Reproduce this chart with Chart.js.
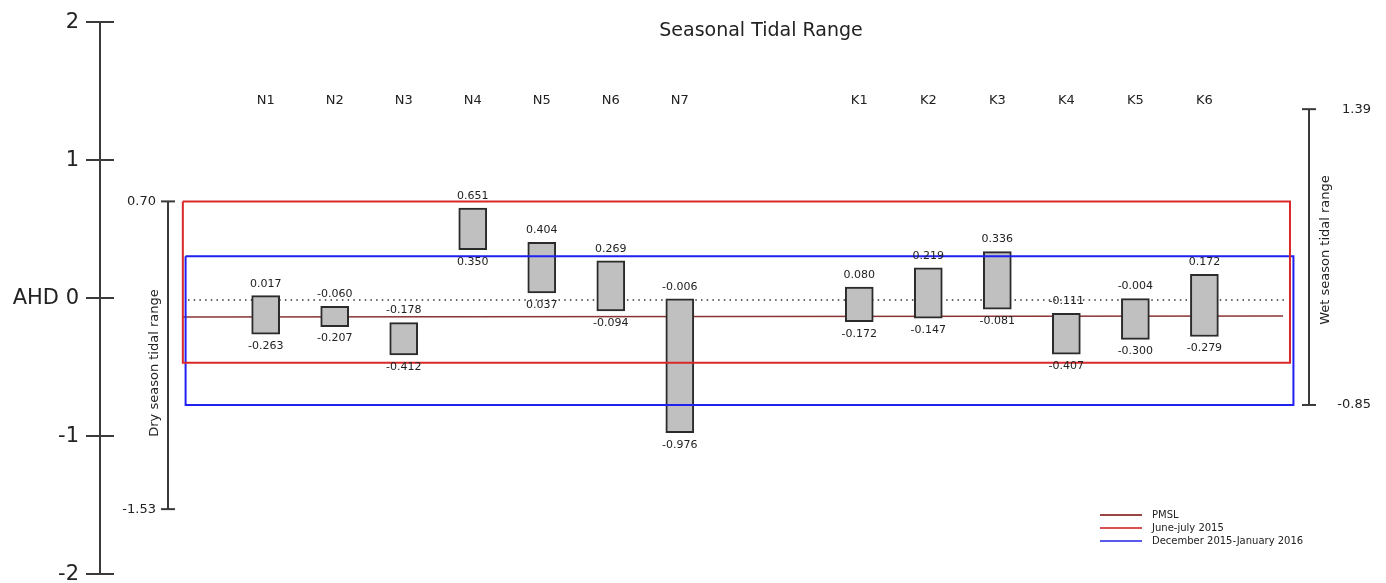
<!DOCTYPE html>
<html>
<head>
<meta charset="utf-8">
<title>Seasonal Tidal Range</title>
<script src="https://cdn.jsdelivr.net/npm/chart.js@4.4.1/dist/chart.umd.min.js"></script>
<style>
  html, body { margin: 0; padding: 0; background: #fff; }
  #wrap { width: 1386px; height: 583px; }
</style>
</head>
<body>
<div id="wrap"><canvas id="tideChart" width="1386" height="583"></canvas></div>
<script>
// sites and their position along the x axis (gap between the N and K groups)
var sites = ["N1", "N2", "N3", "N4", "N5", "N6", "N7", "K1", "K2", "K3", "K4", "K5", "K6"];
var sitePos = [1, 2, 3, 4, 5, 6, 7, 9.6, 10.6, 11.6, 12.6, 13.6, 14.6];
var rangeHigh = [0.017, -0.060, -0.178, 0.651, 0.404, 0.269, -0.006, 0.080, 0.219, 0.336, -0.111, -0.004, 0.172];
var rangeLow = [-0.263, -0.207, -0.412, 0.350, 0.037, -0.094, -0.976, -0.172, -0.147, -0.081, -0.407, -0.300, -0.279];

// AHD axis
var ahdTicks = [2, 1, 0, -1, -2];
var ahdTickLabels = ["2", "1", "AHD 0", "-1", "-2"];
// dry / wet season tidal range axes
var dryTicks = [0.70, -1.53];
var dryTickLabels = ["0.70", "-1.53"];
var wetTicks = [1.39, -0.85];
var wetTickLabels = ["1.39", "-0.85"];

// season boxes: [left, right, top, bottom]
var juneBox = [-0.20, 15.84, 0.70, -0.469];
var decBox = [-0.16, 15.89, 0.302, -0.775];
// PMSL line and AHD 0 reference
var pmslX = [-0.197, 15.74];
var pmslY = [-0.137, -0.131];
var zeroX = [-0.125, 15.77];
var zeroY = [-0.015, -0.015];

var legendNames = ["PMSL", "June-july 2015", "December 2015-January 2016"];

var FONT = "'DejaVu Sans', Verdana, sans-serif";

function boxPoints(b) {
  return [
    { x: b[0], y: b[2] },
    { x: b[1], y: b[2] },
    { x: b[1], y: b[3] },
    { x: b[0], y: b[3] },
    { x: b[0], y: b[2] },
  ];
}

function linePoints(xs, ys) {
  return xs.map(function (v, i) {
    return { x: v, y: ys[i] };
  });
}

var decorPlugin = {
  id: "tideDecor",
  afterDraw: function (chart) {
    var ctx = chart.ctx;
    var xs = chart.scales.x;
    var ys = chart.scales.y;
    var yw = chart.scales.yWet;
    var area = chart.chartArea;

    function seg(x1, y1, x2, y2) {
      ctx.beginPath();
      ctx.moveTo(x1, y1);
      ctx.lineTo(x2, y2);
      ctx.stroke();
    }
    function text(str, x, y, align, size, baseline) {
      ctx.font = size + "px " + FONT;
      ctx.textAlign = align;
      ctx.textBaseline = baseline || "middle";
      ctx.fillText(str, x, y);
    }

    ctx.save();
    ctx.strokeStyle = "#3a3a3a";
    ctx.fillStyle = "#222";
    ctx.lineWidth = 2;

    // AHD axis
    var ax = area.left;
    seg(ax, ys.getPixelForValue(ahdTicks[0]), ax, ys.getPixelForValue(ahdTicks[ahdTicks.length - 1]));
    ahdTicks.forEach(function (v, i) {
      var py = ys.getPixelForValue(v);
      seg(ax - 14, py, ax + 14, py);
      text(ahdTickLabels[i], ax - 21, py + 1, "right", 21);
    });

    // dry season axis
    var dx = 168;
    seg(dx, ys.getPixelForValue(dryTicks[0]), dx, ys.getPixelForValue(dryTicks[1]));
    dryTicks.forEach(function (v, i) {
      var py = ys.getPixelForValue(v);
      seg(dx - 7, py, dx + 7, py);
      text(dryTickLabels[i], dx - 12, py, "right", 13);
    });
    ctx.save();
    ctx.translate(155, 363);
    ctx.rotate(-Math.PI / 2);
    text("Dry season tidal range", 0, 0, "center", 13);
    ctx.restore();

    // wet season axis
    var wx = area.right - 1;
    seg(wx, yw.getPixelForValue(wetTicks[0]), wx, yw.getPixelForValue(wetTicks[1]));
    wetTicks.forEach(function (v, i) {
      var py = yw.getPixelForValue(v);
      seg(wx - 7, py, wx + 7, py);
      text(wetTickLabels[i], 1371, py, "right", 13);
    });
    ctx.save();
    ctx.translate(1326, 250);
    ctx.rotate(-Math.PI / 2);
    text("Wet season tidal range", 0, 0, "center", 13);
    ctx.restore();

    // title
    text("Seasonal Tidal Range", 761, 31, "center", 19);

    // site labels and range values
    sites.forEach(function (s, i) {
      var px = xs.getPixelForValue(sitePos[i]);
      text(s, px, 101, "center", 13);
      text(rangeHigh[i].toFixed(3), px, ys.getPixelForValue(rangeHigh[i]) - 12, "center", 11);
      text(rangeLow[i].toFixed(3), px, ys.getPixelForValue(rangeLow[i]) + 12, "center", 11);
    });

    // legend, in the order of legendNames
    var ly = 515;
    legendNames.forEach(function (name) {
      var ds = chart.data.datasets.filter(function (d) {
        return d.label === name;
      })[0];
      if (!ds) return;
      ctx.strokeStyle = ds.legendColor || ds.borderColor;
      ctx.lineWidth = 2;
      seg(1100, ly, 1142, ly);
      ctx.fillStyle = "#222";
      text(ds.label, 1152, ly, "left", 10);
      ly += 13;
    });

    ctx.restore();
  },
};

new Chart(document.getElementById("tideChart"), {
  type: "bar",
  data: {
    datasets: [
      {
        type: "line",
        label: legendNames[1],
        data: boxPoints(juneBox),
        borderColor: "#d82828",
        legendColor: "#d95050",
        borderWidth: 2,
        pointRadius: 0,
        tension: 0,
        borderJoinStyle: "miter",
        xAxisID: "x",
        yAxisID: "y",
        order: 0,
      },
      {
        type: "line",
        label: legendNames[2],
        data: boxPoints(decBox),
        borderColor: "#2020f0",
        legendColor: "#5a5af0",
        borderWidth: 2,
        pointRadius: 0,
        tension: 0,
        borderJoinStyle: "miter",
        xAxisID: "x",
        yAxisID: "y",
        order: 1,
      },
      {
        type: "bar",
        label: "Tidal range",
        data: sites.map(function (s, i) {
          return { x: sitePos[i], y: [rangeLow[i], rangeHigh[i]] };
        }),
        backgroundColor: "#c0c0c0",
        borderColor: "#2b2b2b",
        borderWidth: 2,
        borderSkipped: false,
        barThickness: 28,
        xAxisID: "x",
        yAxisID: "y",
        order: 2,
      },
      {
        type: "line",
        label: legendNames[0],
        data: linePoints(pmslX, pmslY),
        borderColor: "#8a3434",
        legendColor: "#9a4444",
        borderWidth: 1.5,
        pointRadius: 0,
        xAxisID: "x",
        yAxisID: "y",
        order: 3,
      },
      {
        type: "line",
        label: "AHD 0",
        data: linePoints(zeroX, zeroY),
        borderColor: "#333",
        borderWidth: 1.5,
        borderDash: [1.5, 4.2],
        pointRadius: 0,
        xAxisID: "x",
        yAxisID: "y",
        order: 4,
      },
    ],
  },
  options: {
    responsive: false,
    animation: false,
    layout: { padding: { left: 100, right: 76, top: 22, bottom: 9 } },
    plugins: { legend: { display: false }, tooltip: { enabled: false } },
    scales: {
      x: { type: "linear", min: -1.4, max: 16.13, offset: false, display: false },
      y: { type: "linear", min: -2, max: 2, display: false },
      yWet: { type: "linear", axis: "y", min: -2.13, max: 2.05, display: false },
    },
  },
  plugins: [decorPlugin],
});
</script>
</body>
</html>
